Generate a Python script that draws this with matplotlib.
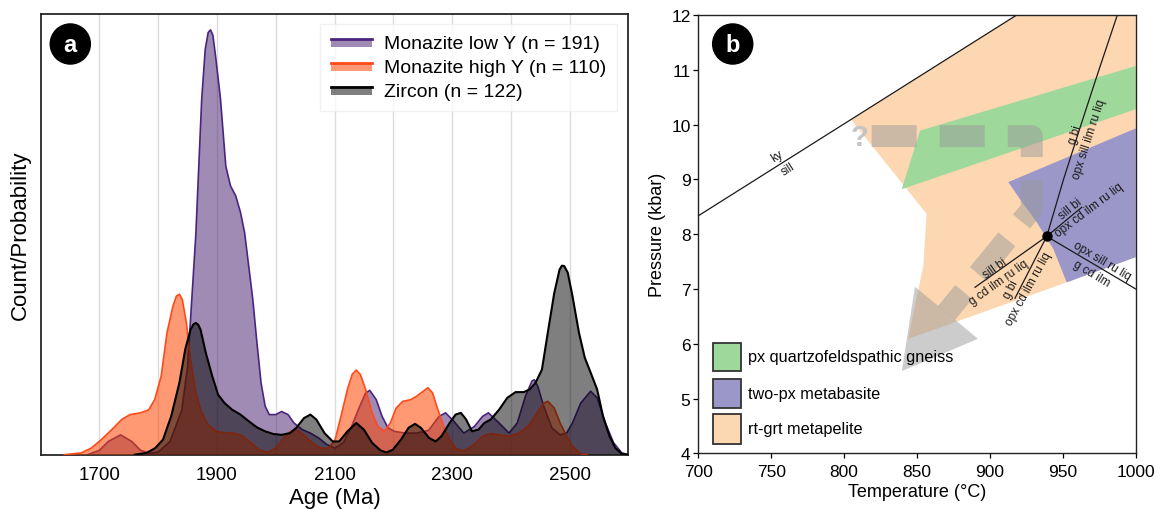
import numpy as np
import matplotlib
matplotlib.use("Agg")
import matplotlib.pyplot as plt
from matplotlib.patches import Polygon, Rectangle, Ellipse
from matplotlib.lines import Line2D
from matplotlib.legend_handler import HandlerBase

plt.rcParams["font.family"] = ["Liberation Sans", "DejaVu Sans"]
plt.rcParams["lines.scale_dashes"] = False

# ---------------- Panel a: age probability curves ----------------
mnz_low_age = [1680, 1700, 1715, 1736, 1755, 1770, 1785, 1800, 1820, 1840, 1850, 1857, 1864,
               1874, 1880, 1885, 1889, 1893, 1898, 1906, 1915, 1923, 1932, 1940, 1947, 1954,
               1961, 1968, 1975, 1982, 1989, 2000, 2010, 2021, 2031, 2045, 2059, 2073, 2087,
               2101, 2115, 2129, 2143, 2153, 2160, 2171, 2181, 2191, 2202, 2220, 2240, 2260,
               2278, 2289, 2303, 2320, 2338, 2352, 2362, 2380, 2397, 2411, 2425, 2436, 2440,
               2446, 2456, 2470, 2484, 2495, 2505, 2519, 2536, 2547, 2561, 2575, 2589, 2600]
mnz_low_val = [0, 1, 3, 4.5, 3, 1, 0.3, 0.6, 3, 10, 20, 35, 50,
               80.7, 92, 95.8, 96.4, 95.2, 90, 80.7, 65.5, 61, 58.7, 55, 50.4, 42.8,
               35.2, 25.4, 16.3, 11, 9.1, 9.1, 9.8, 9.1, 7.2, 5.7, 4.9, 3.8, 2.3,
               1.5, 2.7, 6.4, 11, 14, 14.6, 12.5, 8.7, 6.1, 5.3, 4.9, 4.9, 5.5,
               8.7, 9.5, 7.6, 4.9, 6.4, 8.7, 9.5, 7.2, 4.9, 7.2, 13.3, 16.7, 17,
               15.5, 11, 6.1, 4.5, 4.9, 7.2, 11.7, 14.4, 12.9, 7.2, 2.7, 0.4, 0]

mnz_high_age = [1640, 1669, 1686, 1703, 1721, 1738, 1752, 1770, 1784, 1794, 1805, 1815, 1825,
                1831, 1836, 1841, 1848, 1855, 1864, 1874, 1885, 1899, 1916, 1930, 1944, 1958,
                1972, 1986, 2000, 2014, 2025, 2035, 2048, 2062, 2076, 2090, 2101, 2111, 2122,
                2130, 2137, 2144, 2153, 2164, 2174, 2185, 2195, 2205, 2216, 2230, 2240, 2251,
                2259, 2267, 2275, 2286, 2296, 2306, 2320, 2338, 2352, 2366, 2380, 2397, 2414,
                2432, 2446, 2456, 2463, 2474, 2484, 2495, 2505, 2519, 2530]
mnz_high_val = [0, 0.4, 1.5, 3.4, 5.7, 8, 9.1, 9.5, 10.2, 12.5, 17.8, 27.7, 33.7,
                36.0, 36.4, 35.2, 29.9, 21.6, 14, 9.5, 6.8, 5.3, 4.9, 4.9, 4.2, 2.7,
                1.1, 0.5, 1.5, 3.8, 5.3, 5.7, 4.5, 2.7, 1.5, 1.5, 3.4, 8.7, 14.8,
                18.2, 19.2, 18.2, 14.8, 9.5, 6.4, 5.3, 7.2, 10.6, 12.1, 12.5, 13.3, 14.4,
                15.2, 14, 10.6, 6.4, 3.4, 1.5, 0.8, 2.3, 4.2, 4.8, 4.5, 4.2, 4.9,
                6.8, 9.8, 11.7, 12.1, 10.6, 7.2, 4.2, 1.9, 0.2, 0]

zircon_age = [1760, 1780, 1795, 1808, 1822, 1836, 1846, 1855, 1860, 1864, 1868, 1872, 1881,
              1892, 1902, 1913, 1926, 1940, 1954, 1968, 1982, 1996, 2010, 2024, 2035, 2048,
              2059, 2069, 2083, 2097, 2108, 2122, 2137, 2150, 2164, 2178, 2188, 2199, 2213,
              2226, 2237, 2247, 2261, 2272, 2282, 2296, 2306, 2315, 2324, 2334, 2345, 2355,
              2366, 2380, 2394, 2408, 2422, 2432, 2442, 2453, 2463, 2474, 2483, 2487, 2491,
              2497, 2505, 2516, 2526, 2536, 2547, 2557, 2568, 2578, 2589, 2600]
zircon_val = [0, 0.4, 1.5, 3.4, 8.7, 16.3, 23.9, 28.4, 29.6, 29.9, 29.5, 28.4, 23.1,
              17.8, 13.6, 11.7, 10.2, 9.1, 7.6, 6.2, 5.3, 4.7, 4.5, 4.9, 6.1, 8.3,
              9.1, 8.0, 4.9, 3.0, 3.0, 5.3, 7.2, 5.7, 2.7, 1.0, 0.5, 1.1, 3.4,
              6.1, 7.0, 6.1, 3.8, 3.0, 4.2, 7.2, 9.1, 9.5, 8.0, 5.3, 5.7, 7.2,
              8.0, 10.2, 12.9, 14.2, 14.2, 14.8, 16.3, 19.3, 27.7, 36.7, 42, 42.9, 42.8,
              41.3, 36, 27.7, 22, 18.6, 14.8, 8.7, 4.2, 1.5, 0.2, 0]

series_labels = ["Monazite low Y (n = 191)", "Monazite high Y (n = 110)", "Zircon (n = 122)"]
face_colors = ["#41196a", "#ff4500", "#000000"]
face_alphas = [0.5, 0.55, 0.5]
line_colors = ["#4a2580", "#ff4a1c", "#000000"]
line_widths = [1.2, 1.2, 1.5]

# ---------------- Panel b: P-T diagram ----------------
kysill_T = [700, 918.4]
kysill_P = [8.335, 12.0]

inv_T, inv_P = 939.0, 7.96
gbi_up_T = [939.0, 950.5, 962.5, 974.8, 987.4]
gbi_up_P = [7.96, 9.0, 10.0, 11.0, 12.0]
ne_T, ne_P = [939.0, 963.0], [7.96, 8.49]
se_T, se_P = [939.0, 1000.0], [7.96, 7.0]
sw_T, sw_P = [939.0, 889.8], [7.96, 7.03]
s_T, s_P = [939.0, 917.2], [7.96, 6.83]

metapelite_T = [804.8, 918.4, 1000, 1000, 952.7, 844.0, 854.3, 856.6]
metapelite_P = [10.09, 12.0, 12.0, 7.58, 7.12, 6.09, 7.42, 8.37]
gneiss_T = [839.5, 852.1, 1000, 1000]
gneiss_P = [8.82, 9.89, 11.07, 10.28]
metabasite_T = [912.6, 1000, 1000, 952.7, 943.5, 932.1, 920.6]
metabasite_P = [8.95, 9.93, 7.58, 7.12, 7.73, 8.22, 8.64]

path_T = [818.9, 928.7, 928.7, 870.2]
path_P = [9.79, 9.79, 8.46, 6.56]
head_T = [848.6, 839.6, 891.8]
head_P = [7.04, 5.50, 6.09]

rock_labels = ["px quartzofeldspathic gneiss", "two-px metabasite", "rt-grt metapelite"]
rock_colors = ["#9fd89b", "#9b97c9", "#fdd7b1"]

phase_labels = [
    ("ky", 753.7, 9.43, 32.2), ("sill", 761.7, 9.19, 32.2),
    ("g bi", 958.4, 9.83, 72), ("opx sill ilm ru liq", 968.4, 9.74, 72),
    ("sill bi", 955.4, 8.47, 39), ("opx cd ilm ru liq", 968.2, 8.44, 37),
    ("opx sill ru liq", 976.7, 7.52, -30.8), ("g cd ilm", 969.8, 7.29, -30.8),
    ("sill bi", 903.5, 7.38, 35.4), ("g cd ilm ru liq", 906.2, 7.13, 35.4),
    ("g bi", 914.5, 7.0, 62.9), ("opx cd ilm ru liq", 926.8, 7.01, 61),
]

W, H = 1158, 510
fig = plt.figure(figsize=(W / 100, H / 100), dpi=100)
ax1 = fig.add_axes([40.7 / W, 1 - 455.7 / H, 587.6 / W, 440.7 / H])
ax2 = fig.add_axes([698.3 / W, 1 - 454.3 / H, 437.4 / W, 438.3 / H])

# ---- panel a ----
curves = [(mnz_low_age, mnz_low_val), (mnz_high_age, mnz_high_val), (zircon_age, zircon_val)]
for i, (ages, vals) in enumerate(curves):
    ax1.fill_between(ages, 0, vals, facecolor=face_colors[i], alpha=face_alphas[i],
                     linewidth=0, zorder=2 + i)
    ax1.plot(ages, vals, color=line_colors[i], lw=line_widths[i], zorder=2 + i,
             solid_joinstyle="round")

ax1.set_xlim(1600, 2600)
ax1.set_ylim(0, 100)
ax1.set_xticks([1700, 1900, 2100, 2300, 2500])
ax1.set_xticks(np.arange(1700, 2600, 100), minor=True)
ax1.set_yticks([])
ax1.grid(True, which="both", axis="x", color="#dcdcdc", lw=1.0)
ax1.set_axisbelow(True)
ax1.tick_params(which="both", length=0, labelsize=13.5, pad=8)
for s in ax1.spines.values():
    s.set_color("#262626")
    s.set_linewidth(1.3)
ax1.set_xlabel("Age (Ma)", fontsize=16, labelpad=3)
ax1.set_ylabel("Count/Probability", fontsize=16, labelpad=7)


class BandHandler(HandlerBase):
    def create_artists(self, legend, orig_handle, xdescent, ydescent, width, height,
                       fontsize, trans):
        fc, fa, lc = orig_handle
        y0 = -ydescent + height * 0.1
        hh = height * 0.62
        rect = Rectangle((-xdescent, y0), width, hh, facecolor=fc, alpha=fa,
                         edgecolor="none", transform=trans)
        ln = Line2D([-xdescent, -xdescent + width], [y0 + hh, y0 + hh], color=lc,
                    lw=2.0, transform=trans)
        return [rect, ln]


handles = [(face_colors[i], face_alphas[i], line_colors[i]) for i in range(3)]
leg = ax1.legend(handles, series_labels, handler_map={tuple: BandHandler()},
                 loc="upper right", bbox_to_anchor=(0.9813, 0.9773), borderaxespad=0,
                 fontsize=14, handlelength=2.15, handleheight=0.7, handletextpad=0.62,
                 labelspacing=0.33, borderpad=0.55, frameon=True, fancybox=False)
leg.get_frame().set_edgecolor("#eeeeee")
leg.get_frame().set_linewidth(1.0)
leg.set_zorder(10)

# ---- panel b ----
ax2.add_patch(Polygon(np.column_stack([metapelite_T, metapelite_P]), closed=True,
                      facecolor=rock_colors[2], edgecolor="none", zorder=1))
ax2.add_patch(Polygon(np.column_stack([gneiss_T, gneiss_P]), closed=True,
                      facecolor=rock_colors[0], edgecolor="none", zorder=2))
ax2.add_patch(Polygon(np.column_stack([metabasite_T, metabasite_P]), closed=True,
                      facecolor=rock_colors[1], edgecolor="none", zorder=2))

# P-T path
arrow_gray = "#9a9a9a"
ax2.plot(path_T, path_P, color=arrow_gray, alpha=0.5, lw=15.8, dashes=(32.4, 16.6),
         solid_joinstyle="round", dash_joinstyle="round", dash_capstyle="butt", zorder=3)
ax2.add_patch(Polygon(np.column_stack([head_T, head_P]), closed=True,
                      facecolor=arrow_gray, alpha=0.5, edgecolor="none", zorder=3))
ax2.text(810.8, 9.78, "?", fontsize=21, fontweight="bold", color="#c4c4c4",
         ha="center", va="center", zorder=3)

# reaction lines
for T, P in [(kysill_T, kysill_P), (gbi_up_T, gbi_up_P), (ne_T, ne_P),
             (se_T, se_P), (sw_T, sw_P), (s_T, s_P)]:
    ax2.plot(T, P, color="#1a1a1a", lw=0.9, zorder=4)
ax2.plot([inv_T], [inv_P], "o", color="black", ms=6.5, zorder=5)

for txt, t, p, rot in phase_labels:
    ax2.text(t, p, txt, fontsize=8.5, rotation=rot, rotation_mode="anchor",
             ha="center", va="center", color="#1a1a1a", zorder=5)

# legend boxes
box_P = [(6.02, 5.50), (5.364, 4.834), (4.712, 4.176)]
for (top, bot), col, lab in zip(box_P, rock_colors, rock_labels):
    ax2.add_patch(Rectangle((709.8, bot), 19.7, top - bot, facecolor=col,
                            edgecolor="#333333", lw=1.3, zorder=6))
    ax2.text(734.3, (top + bot) / 2, lab, fontsize=11.7, ha="left", va="center", zorder=6)

ax2.set_xlim(700, 1000)
ax2.set_ylim(4, 12)
ax2.set_xticks(np.arange(700, 1001, 50))
ax2.set_yticks(np.arange(4, 13, 1))
ax2.tick_params(direction="out", length=3.6, width=0.9, labelsize=12.5, pad=2)
ax2.tick_params(axis="x", pad=4)
for s in ax2.spines.values():
    s.set_color("#222222")
    s.set_linewidth(1.0)
ax2.set_xlabel("Temperature (\u00b0C)", fontsize=13, labelpad=3)
ax2.set_ylabel("Pressure (kbar)", fontsize=13, labelpad=4)

# panel letters
for cx, cy, letter in [(70.3, 45, "a"), (732.7, 45, "b")]:
    fig.add_artist(Ellipse((cx / W, 1 - cy / H), 41.5 / W, 41.5 / H,
                           transform=fig.transFigure, facecolor="black", edgecolor="none"))
    fig.text(cx / W, 1 - cy / H, letter, color="white", fontsize=17, fontweight="bold",
             ha="center", va="center")

fig.savefig("out.png", dpi=100)
